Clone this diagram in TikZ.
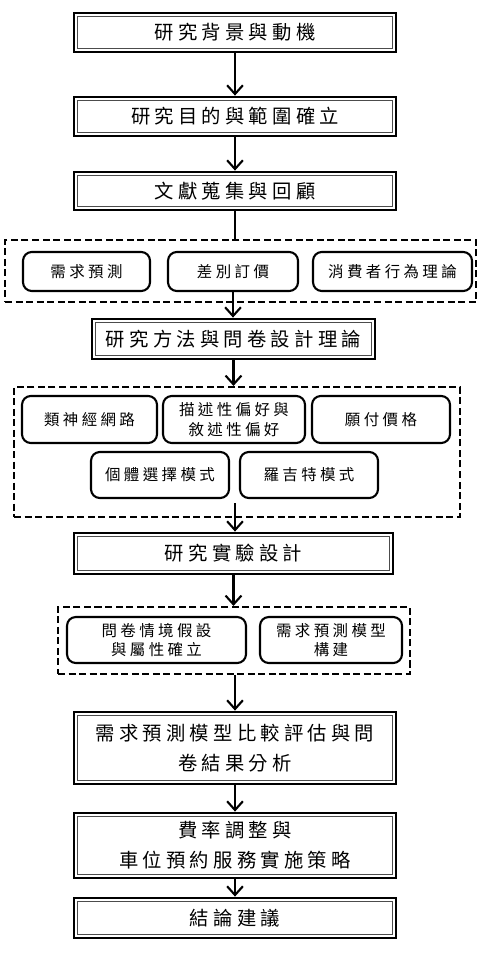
\documentclass[tikz,border=0pt]{standalone}
\usepackage{fontspec}
\newfontfamily\cjk[LetterSpace=22]{Noto Sans CJK TC}
\usetikzlibrary{arrows.meta}

\tikzset{
    mainbox/.style={draw, line width=1.6pt, minimum width=6.44cm, align=center,
        font=\cjk\fontsize{11pt}{16pt}\selectfont, inner sep=0pt,
        path picture={\draw[line width=0.5pt, black!70]
            ([shift={(2.2pt,2.2pt)}]path picture bounding box.south west) rectangle
            ([shift={(-2.2pt,-2.2pt)}]path picture bounding box.north east);}},
    subbox/.style={draw, line width=1.2pt, rounded corners=5pt, align=center,
        font=\cjk\fontsize{8.8pt}{11pt}\selectfont, inner sep=0pt},
    groupbox/.style={draw, line width=1.2pt, dash pattern=on 4pt off 2pt, inner sep=0pt},
    flow/.style={line width=1.2pt, -{Straight Barb[length=5pt,width=9pt,line width=1.2pt]}},
    link/.style={line width=1.2pt}
}

\begin{document}
\begin{tikzpicture}[x=0.02cm, y=-0.02cm]
    \useasboundingbox (0,0) rectangle (479,970);

    % 主流程
    \node[mainbox, minimum height=0.78cm] (bg) at (235,32.5) {研究背景與動機};
    \node[mainbox, minimum height=0.78cm] (aim) at (235,116.5) {研究目的與範圍確立};
    \node[mainbox, minimum height=0.76cm] (lit) at (235,191) {文獻蒐集與回顧};

    % 文獻
    \node[groupbox, minimum width=9.42cm, minimum height=1.24cm] (g1) at (240.5,271) {};
    \node[subbox, minimum width=2.54cm, minimum height=0.78cm] (dem) at (86.5,271.5) {需求預測};
    \node[subbox, minimum width=2.60cm, minimum height=0.78cm] (price) at (233,271.5) {差別訂價};
    \node[subbox, minimum width=3.18cm, minimum height=0.78cm] (cons) at (392.5,271.5) {消費者行為理論};

    \node[mainbox, minimum width=5.66cm, minimum height=0.80cm,
        font=\cjk\fontsize{11pt}{16pt}\selectfont] (meth) at (233.5,339) {研究方法與問卷設計理論};

    % 方法
    \node[groupbox, minimum width=8.92cm, minimum height=2.60cm] (g2) at (237,452) {};
    \node[subbox, minimum width=2.70cm, minimum height=0.94cm] (ann) at (89.5,419.5) {類神經網路};
    \node[subbox, minimum width=2.84cm, minimum height=0.94cm] (pref) at (234,419.5) {描述性偏好與\\敘述性偏好};
    \node[subbox, minimum width=2.76cm, minimum height=0.94cm] (wtp) at (381,419.5) {願付價格};
    \node[subbox, minimum width=2.76cm, minimum height=0.92cm] (dcm) at (160,475) {個體選擇模式};
    \node[subbox, minimum width=2.76cm, minimum height=0.92cm] (logit) at (309,475) {羅吉特模式};
    \coordinate (g2out) at (235,503);

    \node[mainbox, minimum width=6.38cm, minimum height=0.82cm] (exp) at (233.5,553.5) {研究實驗設計};

    % 實驗
    \node[groupbox, minimum width=7.04cm, minimum height=1.34cm] (g3) at (234,640.5) {};
    \node[subbox, minimum width=3.58cm, minimum height=0.92cm] (scen) at (156.5,640) {問卷情境假設\\與屬性確立};
    \node[subbox, minimum width=2.84cm, minimum height=0.92cm] (build) at (331,640) {需求預測模型\\構建};

    \node[mainbox, minimum height=1.44cm, font=\cjk\fontsize{11pt}{17pt}\selectfont] (eval) at (235,748)
        {需求預測模型比較評估與問\\卷結果分析};
    \node[mainbox, minimum height=1.30cm, font=\cjk\fontsize{11pt}{17pt}\selectfont] (rate) at (235,845.5)
        {費率調整與\\車位預約服務實施策略};
    \node[mainbox, minimum height=0.80cm] (end) at (235,918) {結論建議};

    % 連線
    \draw[flow] (bg) -- (aim);
    \draw[flow] (aim) -- (lit);
    \draw[link] (lit.south) -- (lit.south |- g1.north);
    \draw[flow] (price.south) -- (meth.north -| price.south);
    \draw[flow] (meth) -- (g2.north -| meth.south);
    \draw[flow] (g2out) -- (exp.north -| g2out);
    \draw[flow] (exp) -- (g3.north -| exp.south);
    \draw[flow] (eval.north |- g3.south) -- (eval.north);
    \draw[flow] (eval) -- (rate);
    \draw[flow] (rate) -- (end);
\end{tikzpicture}
\end{document}
